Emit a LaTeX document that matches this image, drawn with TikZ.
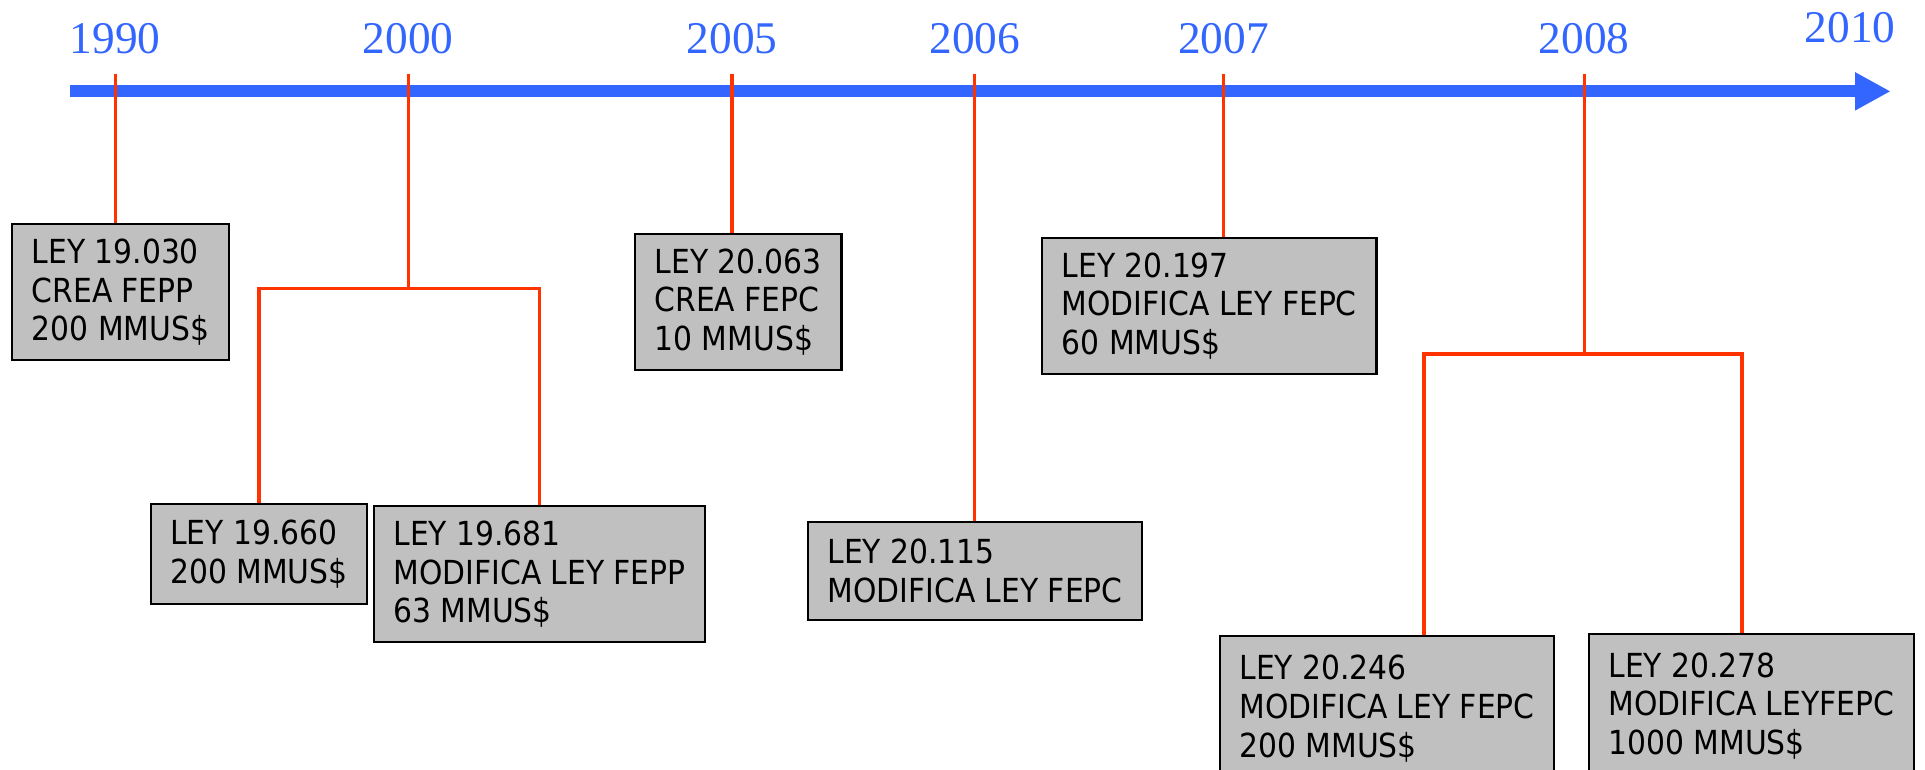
\documentclass[tikz,border=0pt]{standalone}
\usepackage{fontspec}
\usepackage{tikz}
\usetikzlibrary{arrows.meta}
\newfontfamily\boxfont{DejaVu Sans Condensed}
\newfontfamily\yearfont{Liberation Serif}
\definecolor{axisblue}{RGB}{51,102,255}
\definecolor{tickred}{RGB}{255,51,0}
\definecolor{boxgray}{RGB}{192,192,192}
\tikzset{
    lawbox/.style={
           rectangle,
           draw=black, line width=1.8pt,
           fill=boxgray,
           anchor=north west,
           align=left,
           inner xsep=16pt,
           inner ysep=12pt,
           font=\boxfont\fontsize{27pt}{31.5pt}\selectfont,
           },
    year/.style={
           anchor=base,
           inner sep=0pt,
           text=axisblue,
           font=\yearfont\fontsize{37pt}{40pt}\selectfont,
           },
    tick/.style={
           draw=tickred,
           line width=2.5pt,
           },
}

\begin{document}
\begin{tikzpicture}[x=1pt,y=-1pt]
 \useasboundingbox (0,0) rectangle (1570,628);
 % the years
 \node[year] (y1990) at (94,44) {1990};
 \node[year] (y2000) at (333,44) {2000};
 \node[year] (y2005) at (597,44) {2005};
 \node[year] (y2006) at (795,44) {2006};
 \node[year] (y2007) at (998,44) {2007};
 \node[year] (y2008) at (1292,44) {2008};
 \node[year] (y2010) at (1509,35) {2010};
 % the axis
 \coordinate (start) at (57,74.5);
 \coordinate (end) at (1542,74.5);
 \draw[axisblue, line width=10pt, -{Triangle[length=29pt,width=29pt]}] (start) -- (end);
 % the laws
 \node[lawbox] (ley19030) at (9,182)
 {LEY 19.030\\CREA FEPP\\200 MMUS\$};
 \node[lawbox,
 minimum height=82pt] (ley19660) at (122,410)
 {LEY 19.660\\200 MMUS\$};
 \node[lawbox] (ley19681) at (304,412)
 {LEY 19.681\\MODIFICA LEY FEPP\\63 MMUS\$};
 \node[lawbox] (ley20063) at (517,190)
 {LEY 20.063\\CREA FEPC\\10 MMUS\$};
 \node[lawbox,
 minimum height=80pt] (ley20115) at (658,425)
 {LEY 20.115\\MODIFICA LEY FEPC};
 \node[lawbox] (ley20197) at (849,193)
 {LEY 20.197\\MODIFICA LEY FEPC\\60 MMUS\$};
 \node[lawbox,
 minimum height=118pt] (ley20246) at (994,518)
 {LEY 20.246\\MODIFICA LEY FEPC\\200 MMUS\$};
 \node[lawbox,
 minimum height=118pt] (ley20278) at (1295,516)
 {LEY 20.278\\MODIFICA LEYFEPC\\1000 MMUS\$};
 % the ticks
 \coordinate (t1990) at (94,60);
 \coordinate (t2000) at (333,60);
 \coordinate (t2005) at (597,60);
 \coordinate (t2006) at (795,60);
 \coordinate (t2007) at (998,60);
 \coordinate (t2008) at (1292,60);
 \coordinate (j2000) at (333,235);
 \coordinate (j2008) at (1292,289);
 \draw[tick] (t1990) -- (t1990 |- ley19030.north);
 \draw[tick] (t2000) -- (j2000) -| (ley19660.north);
 \draw[tick] (j2000) -| (ley19681.north);
 \draw[tick] (t2005) -- (t2005 |- ley20063.north);
 \draw[tick] (t2006) -- (t2006 |- ley20115.north);
 \draw[tick] (t2007) -- (t2007 |- ley20197.north);
 \draw[tick] (t2008) -- (j2008);
 \draw[tick, line width=3.2pt] (j2008) -| ([xshift=30pt]ley20246.north);
 \draw[tick, line width=3.2pt] (j2008) -| ([xshift=-8pt]ley20278.north);
\end{tikzpicture}
\end{document}
